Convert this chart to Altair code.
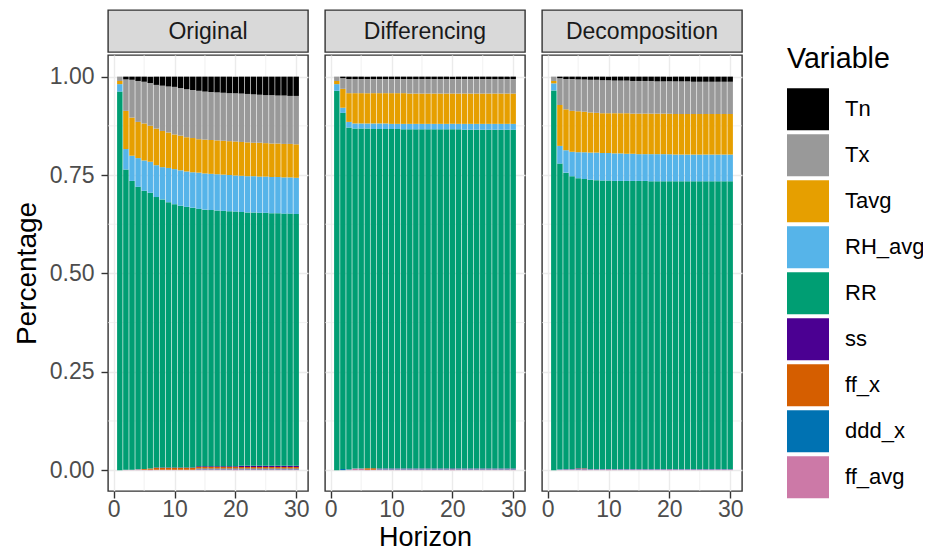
import altair as alt
import pandas as pd

FONT = "Liberation Sans"

horizons = list(range(1, 31))
panels = ["Original", "Differencing", "Decomposition"]
variables = ["Tn", "Tx", "Tavg", "RH_avg", "RR", "ss", "ff_x", "ddd_x", "ff_avg"]
colors = ["#000000", "#999999", "#E69F00", "#56B4E9", "#009E73",
          "#4B0092", "#D55E00", "#0072B2", "#CC79A7"]

# ---- Original: cumulative tops ----
tx_top_o = [1.000, 0.993, 0.992, 0.989, 0.987, 0.984, 0.979, 0.977, 0.975, 0.974,
            0.971, 0.968, 0.966, 0.964, 0.962, 0.961, 0.960, 0.959, 0.958, 0.958,
            0.957, 0.956, 0.955, 0.954, 0.953, 0.953, 0.952, 0.952, 0.951, 0.951]
tavg_top_o = [0.989, 0.913, 0.896, 0.885, 0.881, 0.875, 0.868, 0.862, 0.858, 0.853,
              0.850, 0.846, 0.844, 0.841, 0.840, 0.839, 0.838, 0.837, 0.836, 0.835,
              0.834, 0.833, 0.832, 0.832, 0.831, 0.830, 0.830, 0.829, 0.829, 0.828]
rh_top_o = [0.981, 0.816, 0.799, 0.793, 0.787, 0.784, 0.775, 0.770, 0.768, 0.765,
            0.762, 0.759, 0.757, 0.756, 0.754, 0.753, 0.752, 0.751, 0.750, 0.749,
            0.748, 0.747, 0.747, 0.746, 0.746, 0.745, 0.745, 0.744, 0.744, 0.743]
rr_top_o = [0.962, 0.764, 0.735, 0.720, 0.710, 0.705, 0.694, 0.688, 0.681, 0.676,
            0.672, 0.669, 0.667, 0.664, 0.662, 0.661, 0.660, 0.659, 0.658, 0.657,
            0.656, 0.655, 0.655, 0.654, 0.654, 0.653, 0.653, 0.652, 0.652, 0.651]
ss_o = [0.000, 0.000, 0.000, 0.000, 0.000, 0.000, 0.001, 0.001, 0.001, 0.001,
        0.001, 0.001, 0.001, 0.002, 0.002, 0.002, 0.002, 0.002, 0.002, 0.002,
        0.003, 0.003, 0.003, 0.003, 0.003, 0.003, 0.003, 0.003, 0.003, 0.003]
ff_x_o = [0.000, 0.000, 0.000, 0.000, 0.002, 0.003, 0.005, 0.005, 0.005, 0.005,
          0.005, 0.005, 0.005, 0.004, 0.004, 0.004, 0.004, 0.004, 0.004, 0.004,
          0.004, 0.004, 0.004, 0.004, 0.004, 0.004, 0.004, 0.004, 0.004, 0.004]
ddd_x_o = [0.000, 0.000, 0.000, 0.000, 0.000, 0.000, 0.000, 0.000, 0.000, 0.000,
           0.000, 0.000, 0.000, 0.002, 0.002, 0.002, 0.002, 0.002, 0.002, 0.002,
           0.002, 0.002, 0.002, 0.002, 0.002, 0.002, 0.002, 0.002, 0.002, 0.002]
ff_avg_o = [0.000, 0.001, 0.001, 0.002, 0.001, 0.001, 0.001, 0.001, 0.001, 0.001,
            0.001, 0.001, 0.001, 0.002, 0.002, 0.002, 0.002, 0.002, 0.002, 0.002,
            0.002, 0.002, 0.002, 0.002, 0.002, 0.002, 0.002, 0.002, 0.002, 0.002]

# ---- Differencing ----
tx_top_d = [1.000, 0.996, 0.994, 0.994, 0.994, 0.994, 0.994, 0.994, 0.994, 0.994,
            0.994, 0.994, 0.994, 0.994, 0.994, 0.994, 0.994, 0.994, 0.994, 0.994,
            0.994, 0.994, 0.994, 0.994, 0.994, 0.994, 0.994, 0.994, 0.994, 0.994]
tavg_top_d = [0.989, 0.969, 0.958, 0.958, 0.958, 0.958, 0.958, 0.958, 0.958, 0.958,
              0.958, 0.958, 0.957, 0.957, 0.957, 0.957, 0.957, 0.957, 0.957, 0.957,
              0.957, 0.957, 0.957, 0.957, 0.957, 0.957, 0.957, 0.957, 0.957, 0.957]
rh_top_d = [0.981, 0.921, 0.885, 0.881, 0.881, 0.881, 0.881, 0.881, 0.881, 0.880,
            0.880, 0.880, 0.880, 0.880, 0.880, 0.880, 0.880, 0.880, 0.880, 0.880,
            0.880, 0.880, 0.880, 0.880, 0.880, 0.880, 0.880, 0.880, 0.880, 0.880]
rr_top_d = [0.964, 0.908, 0.871, 0.868, 0.868, 0.868, 0.867, 0.867, 0.867, 0.867,
            0.867, 0.866, 0.866, 0.866, 0.866, 0.866, 0.866, 0.866, 0.866, 0.866,
            0.866, 0.865, 0.865, 0.865, 0.865, 0.865, 0.865, 0.865, 0.865, 0.865]
ss_d = [0.000, 0.000, 0.000, 0.000, 0.000, 0.000, 0.000, 0.001, 0.001, 0.001,
        0.001, 0.001, 0.001, 0.001, 0.001, 0.001, 0.001, 0.001, 0.001, 0.001,
        0.001, 0.001, 0.001, 0.001, 0.001, 0.001, 0.001, 0.001, 0.001, 0.001]
ff_x_d = [0.000, 0.000, 0.000, 0.000, 0.000, 0.004, 0.004, 0.000, 0.000, 0.000,
          0.000, 0.000, 0.000, 0.000, 0.000, 0.000, 0.000, 0.000, 0.000, 0.000,
          0.000, 0.000, 0.000, 0.000, 0.000, 0.000, 0.000, 0.000, 0.000, 0.000]
ddd_x_d = [0.000, 0.003, 0.001, 0.000, 0.000, 0.000, 0.000, 0.001, 0.001, 0.001,
           0.001, 0.001, 0.001, 0.001, 0.001, 0.001, 0.001, 0.001, 0.001, 0.001,
           0.001, 0.001, 0.001, 0.001, 0.001, 0.001, 0.001, 0.001, 0.001, 0.001]
ff_avg_d = [0.000, 0.000, 0.001, 0.004, 0.004, 0.001, 0.001, 0.002, 0.002, 0.002,
            0.002, 0.002, 0.002, 0.002, 0.002, 0.002, 0.002, 0.002, 0.002, 0.002,
            0.002, 0.002, 0.002, 0.002, 0.002, 0.002, 0.002, 0.002, 0.002, 0.002]

# ---- Decomposition ----
tx_top_c = [1.000, 0.996, 0.994, 0.994, 0.993, 0.993, 0.992, 0.992, 0.991, 0.991,
            0.990, 0.990, 0.990, 0.989, 0.989, 0.989, 0.989, 0.988, 0.988, 0.988,
            0.988, 0.988, 0.988, 0.987, 0.987, 0.987, 0.987, 0.987, 0.987, 0.987]
tavg_top_c = [0.989, 0.928, 0.917, 0.913, 0.912, 0.911, 0.909, 0.908, 0.907, 0.907,
              0.907, 0.907, 0.907, 0.906, 0.906, 0.906, 0.906, 0.906, 0.906, 0.906,
              0.905, 0.905, 0.905, 0.905, 0.905, 0.905, 0.905, 0.905, 0.905, 0.905]
rh_top_c = [0.983, 0.824, 0.813, 0.809, 0.808, 0.808, 0.807, 0.807, 0.806, 0.806,
            0.805, 0.805, 0.804, 0.804, 0.803, 0.803, 0.803, 0.803, 0.803, 0.803,
            0.802, 0.802, 0.802, 0.802, 0.802, 0.802, 0.802, 0.802, 0.802, 0.802]
rr_top_c = [0.965, 0.779, 0.756, 0.747, 0.742, 0.740, 0.738, 0.737, 0.736, 0.736,
            0.735, 0.735, 0.735, 0.735, 0.735, 0.735, 0.734, 0.734, 0.734, 0.734,
            0.734, 0.734, 0.734, 0.734, 0.734, 0.734, 0.734, 0.734, 0.734, 0.734]
ss_c = [0.000, 0.000, 0.000, 0.000, 0.001, 0.001, 0.000, 0.000, 0.000, 0.000,
        0.000, 0.000, 0.000, 0.000, 0.000, 0.000, 0.000, 0.000, 0.000, 0.000,
        0.000, 0.000, 0.000, 0.000, 0.000, 0.000, 0.000, 0.000, 0.000, 0.000]
ff_x_c = [0.000, 0.000, 0.000, 0.000, 0.001, 0.001, 0.000, 0.000, 0.000, 0.000,
          0.000, 0.000, 0.000, 0.000, 0.000, 0.000, 0.000, 0.000, 0.000, 0.000,
          0.000, 0.000, 0.000, 0.000, 0.000, 0.000, 0.000, 0.000, 0.000, 0.000]
ddd_x_c = [0.000, 0.001, 0.001, 0.001, 0.001, 0.001, 0.001, 0.001, 0.001, 0.001,
           0.001, 0.001, 0.001, 0.001, 0.001, 0.001, 0.001, 0.001, 0.001, 0.001,
           0.001, 0.001, 0.001, 0.001, 0.001, 0.001, 0.001, 0.001, 0.001, 0.001]
ff_avg_c = [0.000, 0.001, 0.002, 0.002, 0.002, 0.002, 0.002, 0.002, 0.002, 0.002,
            0.002, 0.002, 0.002, 0.002, 0.002, 0.002, 0.002, 0.002, 0.002, 0.002,
            0.002, 0.002, 0.002, 0.002, 0.002, 0.002, 0.002, 0.002, 0.002, 0.002]

major_x = [0, 10, 20, 30]
minor_x = [5, 15, 25]
major_y = [0, 0.25, 0.5, 0.75, 1.0]
minor_y = [0.125, 0.375, 0.625, 0.875]

panel_data = {
    "Original": (tx_top_o, tavg_top_o, rh_top_o, rr_top_o, ss_o, ff_x_o, ddd_x_o, ff_avg_o),
    "Differencing": (tx_top_d, tavg_top_d, rh_top_d, rr_top_d, ss_d, ff_x_d, ddd_x_d, ff_avg_d),
    "Decomposition": (tx_top_c, tavg_top_c, rh_top_c, rr_top_c, ss_c, ff_x_c, ddd_x_c, ff_avg_c),
}


def build_df(name):
    tx, tavg, rh, rr, ss, ffx, ddd, ffa = panel_data[name]
    rows = []
    for i, h in enumerate(horizons):
        shares = {
            "ff_avg": ffa[i], "ddd_x": ddd[i], "ff_x": ffx[i], "ss": ss[i],
            "RR": rr[i] - (ss[i] + ffx[i] + ddd[i] + ffa[i]),
            "RH_avg": rh[i] - rr[i], "Tavg": tavg[i] - rh[i],
            "Tx": tx[i] - tavg[i], "Tn": 1.0 - tx[i],
        }
        cum = 0.0
        for v in ["ff_avg", "ddd_x", "ff_x", "ss", "RR", "RH_avg", "Tavg", "Tx", "Tn"]:
            rows.append({"panel": name, "horizon": h, "variable": v,
                         "x0": h - 0.45, "x1": h + 0.45,
                         "y0": cum, "y1": cum + shares[v]})
            cum += shares[v]
    return pd.DataFrame(rows)


W, H, HS = 200, 436, 42
xscale = alt.Scale(domain=[-0.945, 31.945], nice=False, zero=False)
yscale = alt.Scale(domain=[-0.053, 1.055], nice=False, zero=False)
GRID = "#EBEBEB"


def panel(name, idx):
    df = build_df(name)
    first = idx == 0
    if first:
        yaxis = alt.Axis(values=major_y, format=".2f", title="Percentage",
                         grid=True, titlePadding=8, labelPadding=7)
    else:
        yaxis = alt.Axis(values=major_y, labels=False, ticks=False, title=None,
                         grid=True, domain=False)
    xaxis = alt.Axis(values=major_x, format="d", grid=True, labelPadding=0,
                     title="Horizon" if idx == 1 else None, titlePadding=3.5)

    mx = alt.Chart(pd.DataFrame({"x0": minor_x})).mark_rule(
        color=GRID, strokeWidth=0.7).encode(x=alt.X("x0:Q", scale=xscale, axis=xaxis))
    my = alt.Chart(pd.DataFrame({"y0": minor_y})).mark_rule(
        color=GRID, strokeWidth=0.7).encode(y=alt.Y("y0:Q", scale=yscale, axis=yaxis))
    bars = alt.Chart(df).mark_bar(strokeWidth=0).encode(
        x=alt.X("x0:Q", scale=xscale, axis=xaxis),
        x2="x1:Q",
        y=alt.Y("y0:Q", scale=yscale, axis=yaxis),
        y2="y1:Q",
        color=alt.Color("variable:N",
                        scale=alt.Scale(domain=variables, range=colors),
                        legend=alt.Legend(title="Variable")),
    )
    main = alt.layer(mx, my, bars).properties(width=W, height=H)

    strip = alt.Chart(pd.DataFrame({"label": [name]})).mark_text(
        font=FONT, fontSize=23, color="#1A1A1A", baseline="middle"
    ).encode(text="label:N", x=alt.value(W / 2), y=alt.value(HS / 2 + 1)).properties(
        width=W, height=HS,
        view=alt.ViewBackground(fill="#D9D9D9", stroke="#333333", strokeWidth=1.4),
    )
    return alt.vconcat(strip, main, spacing=0)


chart = alt.hconcat(*[panel(n, i) for i, n in enumerate(panels)], spacing=13).properties(
    padding={"left": 4, "top": 1, "right": -2, "bottom": 0.5}
).configure_view(
    stroke="#333333", strokeWidth=1.4
).configure_axis(
    labelFont=FONT, labelFontSize=23, labelColor="#4D4D4D",
    titleFont=FONT, titleFontSize=27, titleColor="#000000", titleFontWeight="normal",
    tickColor="#333333", tickSize=7, tickWidth=1.4, domain=False,
    gridColor=GRID, gridWidth=1.4,
).configure_axisY(
    titleFontSize=28
).configure_legend(
    orient="none", legendX=679, legendY=35, padding=0,
    titleFont=FONT, titleFontSize=28.6, titleColor="#000000", titleFontWeight="normal",
    labelFont=FONT, labelFontSize=22, labelColor="#000000",
    symbolType="square", symbolSize=1764, symbolStrokeWidth=0, symbolOpacity=1,
    rowPadding=4.0, labelOffset=16, titlePadding=14.6,
).configure_concat(spacing=0)

chart.save("out.html", embed_options={"renderer": "svg", "actions": False})
